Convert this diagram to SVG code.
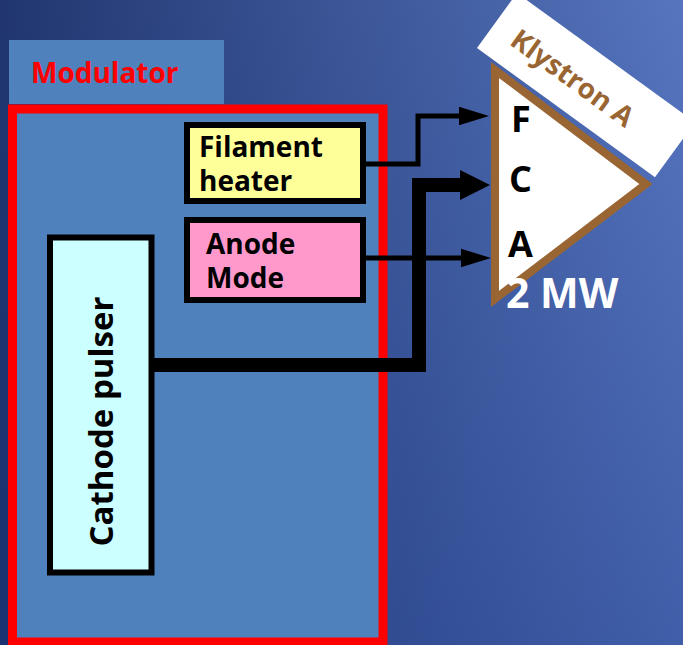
<svg xmlns="http://www.w3.org/2000/svg" width="683" height="645" viewBox="0 0 683 645">
  <defs>
    <linearGradient id="bgH" x1="0" y1="0" x2="1" y2="0">
      <stop offset="0" stop-color="#21366f"/>
      <stop offset="1" stop-color="#5675be"/>
    </linearGradient>
    <linearGradient id="bgV" x1="0" y1="0" x2="0" y2="1">
      <stop offset="0" stop-color="#0d2a78" stop-opacity="0"/>
      <stop offset="1" stop-color="#0d2a78" stop-opacity="0.3"/>
    </linearGradient>
    <marker id="headThin" markerUnits="userSpaceOnUse" markerWidth="30" markerHeight="20" viewBox="0 0 29 18" refX="0" refY="9" orient="auto">
      <path d="M0,0 L29,9 L0,18 Z" fill="#000"/>
    </marker>
    <marker id="headThick" markerUnits="userSpaceOnUse" markerWidth="30" markerHeight="30" viewBox="0 0 29 29" refX="0" refY="14.5" orient="auto">
      <path d="M0,0 L29,14.5 L0,29 Z" fill="#000"/>
    </marker>
    <style>
      .lbl { font-family: "Open Sans", Lato, "Liberation Sans", sans-serif; font-weight: bold; }
      .box { stroke: #000; stroke-width: 6; }
      .wire { fill: none; stroke: #000; stroke-linejoin: miter; }
    </style>
  </defs>

  <rect x="0" y="0" width="683" height="645" fill="url(#bgH)"/>
  <rect x="0" y="0" width="683" height="645" fill="url(#bgV)"/>

  <g id="modulator-label">
    <rect x="9" y="40" width="215" height="64" fill="#4f81bd"/>
    <text class="lbl" x="31" y="83" font-size="28" fill="#ff0000">Modulator</text>
  </g>

  <g id="modulator">
    <rect x="12.5" y="109" width="370.5" height="533" fill="#4f81bd" stroke="#ff0000" stroke-width="9"/>
  </g>

  <g id="filament-heater">
    <rect class="box" x="187" y="125" width="176" height="76" fill="#ffff99"/>
    <text class="lbl" x="199" y="157" font-size="28" fill="#000">Filament</text>
    <text class="lbl" x="199" y="191" font-size="28" fill="#000">heater</text>
  </g>

  <g id="anode-mode">
    <rect class="box" x="187" y="220" width="176" height="80" fill="#ff99cc"/>
    <text class="lbl" x="206" y="254" font-size="28" fill="#000">Anode</text>
    <text class="lbl" x="206" y="288" font-size="28" fill="#000">Mode</text>
  </g>

  <g id="cathode-pulser">
    <rect x="50" y="237.5" width="101.5" height="335" fill="#ccffff" stroke="#000" stroke-width="6"/>
    <text class="lbl" x="113" y="421.5" font-size="33" fill="#000" text-anchor="middle" transform="rotate(-90 113 421.5)">Cathode pulser</text>
  </g>

  <g id="klystron">
    <polygon points="495,70 495,299 646,184" fill="#ffffff" stroke="#996633" stroke-width="8" stroke-linejoin="miter"/>
    <g transform="rotate(36 477 48)">
      <rect x="477" y="-20" width="220" height="68" fill="#ffffff"/>
      <text class="lbl" x="500" y="26" font-size="28" fill="#996633">Klystron A</text>
    </g>
    <text class="lbl" x="511" y="132" font-size="36" fill="#000">F</text>
    <text class="lbl" x="509" y="192" font-size="36" fill="#000">C</text>
    <text class="lbl" x="508" y="257" font-size="36" fill="#000">A</text>
    <text class="lbl" x="506" y="308" font-size="41" fill="#ffffff">2 MW</text>
  </g>

  <g id="connectors">
    <polyline class="wire" points="366,164 418,164 418,116 459,116" stroke-width="5" marker-end="url(#headThin)"/>
    <polyline class="wire" points="366,258 461,258" stroke-width="5" marker-end="url(#headThin)"/>
    <polyline class="wire" points="154,365 419,365 419,185 460,185" stroke-width="14" marker-end="url(#headThick)"/>
  </g>
</svg>
